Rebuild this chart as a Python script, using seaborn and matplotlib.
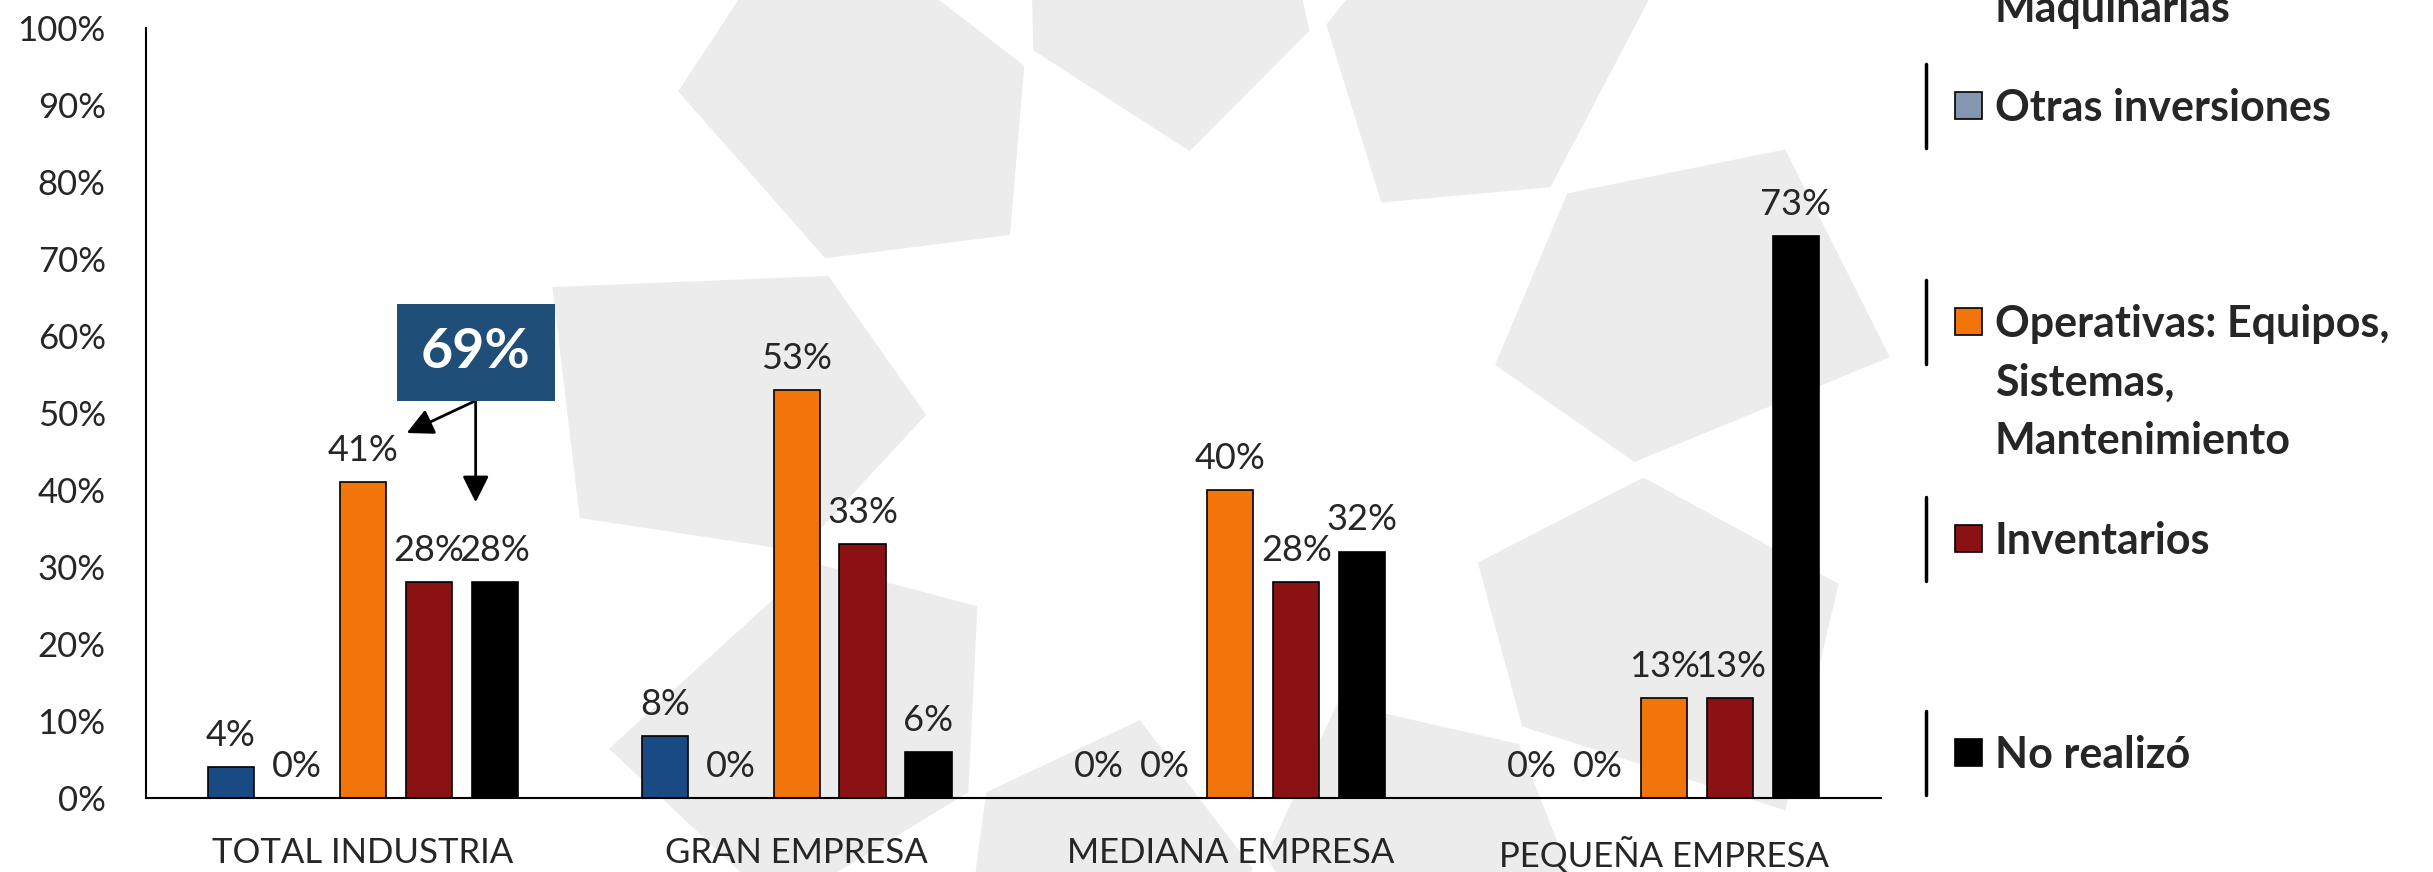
import numpy as np
import pandas as pd
import seaborn as sns
import matplotlib.pyplot as plt
from matplotlib.patches import Rectangle, Polygon
from matplotlib.lines import Line2D
from matplotlib.ticker import PercentFormatter

# datos
categorias = ["TOTAL INDUSTRIA", "GRAN EMPRESA", "MEDIANA EMPRESA", "PEQUEÑA EMPRESA"]
series = ["Maquinarias", "Otras inversiones",
          "Operativas: Equipos,\nSistemas,\nMantenimiento", "Inventarios", "No realizó"]
maquinarias = [0.04, 0.08, 0.00, 0.00]
otras = [0.00, 0.00, 0.00, 0.00]
operativas = [0.41, 0.53, 0.40, 0.13]
inventarios = [0.28, 0.33, 0.28, 0.13]
no_realizo = [0.28, 0.06, 0.32, 0.73]
colores = ["#1A4A84", "#8497B0", "#F2750C", "#8B1214", "#000000"]
total_invirtio = "69%"

valores = [maquinarias, otras, operativas, inventarios, no_realizo]
df = pd.DataFrame({
    "categoria": np.tile(categorias, len(series)),
    "serie": np.repeat(series, len(categorias)),
    "valor": np.concatenate(valores),
})

W, H = 2433, 872
sns.set_style("white")
plt.rcParams["font.family"] = ["Lato", "DejaVu Sans"]

fig = plt.figure(figsize=(W / 100, H / 100), dpi=100)
ax = fig.add_axes([146 / W, 1 - 798 / H, (1881 - 146) / W, (798 - 28) / H])
ax.set_facecolor("none")

# marca de agua (logo gris de fondo)
cx, cy = 1215, 440
forma = [(290, 0), (420, -18), (680, -8), (640, 12), (430, 20)]
for k in range(9):
    t0 = 15 + k * 40
    pts = [((cx + r * np.cos(np.radians(t0 + a))) / W,
            1 - (cy - r * np.sin(np.radians(t0 + a))) / H) for r, a in forma]
    fig.add_artist(Polygon(pts, closed=True, transform=fig.transFigure,
                           facecolor="#ECECEC", edgecolor="none", zorder=-5))

sns.barplot(data=df, x="categoria", y="valor", hue="serie", order=categorias,
            hue_order=series, palette=colores, saturation=1, width=0.76, gap=0.3,
            edgecolor="black", linewidth=1.2, legend=False, ax=ax)

for cont in ax.containers:
    ax.bar_label(cont, labels=[f"{b.get_height() * 100:.0f}%" for b in cont],
                 padding=11, fontsize=26)

ax.set_xlim(-0.5, 3.5)
ax.set_ylim(0, 1)
ax.set_yticks(np.arange(0, 1.01, 0.1))
ax.yaxis.set_major_formatter(PercentFormatter(1.0, decimals=0))
ax.tick_params(axis="both", length=0, labelsize=25)
ax.tick_params(axis="y", pad=29)
ax.tick_params(axis="x", pad=28)
ax.set_xlabel("")
ax.set_ylabel("")
sns.despine(ax=ax)
for s in ["left", "bottom"]:
    ax.spines[s].set_color("black")
    ax.spines[s].set_linewidth(1.5)

# recuadro 69% con flechas
ax.add_patch(Rectangle((0.26 - 0.182, 0.579 - 0.063), 0.364, 0.126,
                       facecolor="#1F4E79", edgecolor="none", zorder=5))
ax.text(0.26, 0.579, total_invirtio, color="white", fontsize=40, fontweight="bold",
        ha="center", va="center", zorder=6)
for destino in [(0.101, 0.474), (0.26, 0.384)]:
    ax.annotate("", xy=destino, xytext=(0.26, 0.516),
                arrowprops=dict(arrowstyle="-|>", color="black", lw=2,
                                mutation_scale=40, shrinkA=0, shrinkB=0))

# leyenda manual
texto_y = [7, 106, 322, 539, 753]
cuadro_y = [-52, 106, 322, 539, 753]
for nombre, color, ty, qy in zip(series, colores, texto_y, cuadro_y):
    fig.add_artist(Line2D([1926 / W, 1926 / W], [1 - (qy - 42) / H, 1 - (qy + 42) / H],
                          color="black", lw=2.5, transform=fig.transFigure))
    fig.add_artist(Rectangle((1955 / W, 1 - (qy + 13) / H), 27 / W, 27 / H,
                             facecolor=color, edgecolor="black", lw=1.2,
                             transform=fig.transFigure))
    for i, linea in enumerate(nombre.split("\n")):
        fig.text(1995 / W, 1 - (ty + 15 + i * 58.5) / H, linea, fontsize=31,
                 fontweight="bold", ha="left", va="baseline")

fig.savefig("out.png", dpi=100)
